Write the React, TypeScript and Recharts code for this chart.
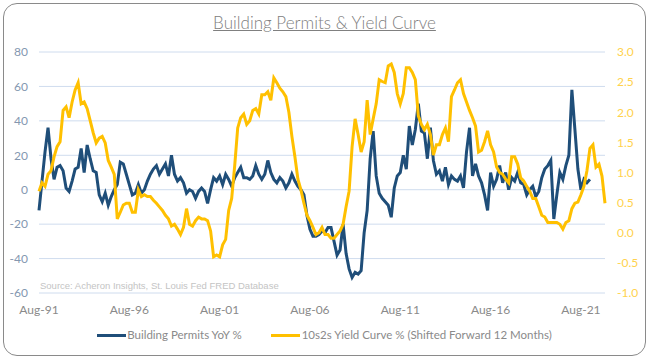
import React from 'react';
import { LineChart, Line, XAxis, YAxis, CartesianGrid } from 'recharts';

// every second month from Aug-91
const permitsYoY = [
  -12, 5, 22, 36, 18, 6, 13, 14, 11, 1, -1, 5, 12, 13, 24, 10, 26, 18, 11, 10,
  -3, -7, -2, -9, -4, 0, 3, 16, 15, 9, 3, -3, -2, 3, -2, 0, 5, 9, 12, 14,
  9, 12, 15, 8, 20, 9, 5, 7, 4, -2, 0, -1, -5, -1, 1, -1, -8, 0, 7, 5,
  8, 3, 9, 6, 2, 7, 10, 13, 7, 7, 6, 8, 14, 9, 6, 9, 17, 10, 6, 4,
  7, 5, 1, 4, 9, 5, 2, 0, -3, -15, -23, -27, -27, -26, -24, -25, -22, -22, -30, -38,
  -35, -20, -37, -46, -51, -48, -49, -47, -25, -12, 18, 34, 8, -2, -5, -7, -9, -16, 1, 8,
  10, 20, 12, 37, 26, 35, 50, 34, 33, 18, 36, 17, 9, 11, 5, 13, 3, 8, 6, 5,
  8, 1, 22, 36, 8, 15, 8, 4, -3, -12, 10, 2, 6, 14, 4, 10, 0, 7, 5, 10,
  4, 3, -3, 0, 2, -4, -1, 7, 12, 14, 17, -17, -3, 10, 6, 14, 20, 58, 35, 12,
  0, 6, 4, 6,
];

// 10s2s spread, shifted forward 12 months
const yieldCurve = [
  0.69, 0.83, 0.77, 0.97, 1.03, 1.26, 1.43, 1.51, 2.03, 2.09, 1.91, 2.17, 2.37, 2.49, 2.14, 2.17, 2.06, 1.86, 1.66, 1.49,
  1.57, 1.6, 1.49, 1.2, 1.09, 0.97, 0.23, 0.34, 0.46, 0.49, 0.49, 0.34, 0.34, 0.71, 0.6, 0.63, 0.6, 0.6, 0.54, 0.49,
  0.43, 0.37, 0.29, 0.23, 0.11, 0.14, 0.06, -0.03, 0.09, 0.4, 0.14, 0.11, 0.2, 0.26, 0.23, 0.23, 0.2, 0.03, -0.4, -0.37,
  -0.4, -0.2, -0.11, 0.37, 0.57, 1.11, 1.74, 1.91, 1.97, 1.8, 1.86, 2.03, 2.06, 1.97, 2.29, 2.29, 2.34, 2.2, 2.57, 2.49,
  2.4, 2.34, 2.26, 2.0, 1.6, 1.26, 0.89, 0.71, 0.49, 0.29, 0.2, 0.09, -0.03, 0.0, 0.09, -0.03, -0.03, -0.09, -0.09, -0.03,
  0.03, 0.14, 0.43, 0.69, 1.43, 1.89, 1.63, 1.34, 1.51, 2.2, 1.63, 1.89, 2.14, 2.54, 2.51, 2.49, 2.77, 2.8, 2.66, 2.31,
  2.14, 2.31, 2.74, 2.74, 2.66, 2.54, 1.94, 1.8, 1.71, 1.8, 1.63, 1.29, 1.46, 1.46, 1.63, 1.74, 1.51, 2.26, 2.37, 2.49,
  2.54, 2.31, 2.17, 2.03, 1.91, 1.77, 1.34, 1.37, 1.51, 1.69, 1.46, 1.34, 1.09, 1.0, 0.97, 0.89, 0.83, 1.26, 1.26, 1.14,
  0.91, 0.86, 0.77, 0.69, 0.57, 0.57, 0.43, 0.29, 0.26, 0.17, 0.17, 0.17, 0.17, 0.14, 0.06, 0.17, 0.2, 0.4, 0.49, 0.51,
  0.63, 0.77, 1.03, 1.4, 1.46, 1.09, 1.14, 0.94, 0.49,
];

const leftTicks = [-60, -40, -20, 0, 20, 40, 60, 80];
const rightTicks = [-1, -0.5, 0, 0.5, 1, 1.5, 2, 2.5, 3];
const MONTHS = ['Jan', 'Feb', 'Mar', 'Apr', 'May', 'Jun', 'Jul', 'Aug', 'Sep', 'Oct', 'Nov', 'Dec'];

const categories = yieldCurve.map((_, i) => {
  const m = 7 + 2 * i;
  const yy = String((1991 + Math.floor(m / 12)) % 100).padStart(2, '0');
  return `${MONTHS[m % 12]}-${yy}`;
});

const data = categories.map((month, i) => ({
  month,
  permits: i < permitsYoY.length ? permitsYoY[i] : null,
  curve: yieldCurve[i],
}));

const BLUE = '#1f4e79';
const GOLD = '#ffc000';
const FONT = 'Lato, "Open Sans", sans-serif';

export default function App() {
  return (
    <div style={{ position: 'absolute', left: 0, top: 0, width: 649, height: 360, background: '#fff', fontFamily: FONT }}>
      <div style={{ position: 'absolute', left: 3, top: 3, width: 643, height: 353, border: '1.5px solid #8a8a8a', borderRadius: 14, boxSizing: 'border-box' }} />
      <div style={{ position: 'absolute', top: 12, left: 0, width: 649, textAlign: 'center', fontSize: 17, fontWeight: 300, color: '#808080', textDecoration: 'underline', lineHeight: '22px' }}>
        Building Permits &amp; Yield Curve
      </div>

      <LineChart width={649} height={360} data={data} margin={{ top: 52, right: 0, bottom: 47, left: 0 }} style={{ position: 'absolute', left: 0, top: 0 }}>
        <CartesianGrid yAxisId="left" vertical={false} stroke="#cfdcee" />
        <XAxis
          dataKey="month"
          interval={29}
          axisLine={false}
          tickLine={false}
          height={20}
          tickMargin={6}
          tick={{ fill: '#8a8a8a', fontSize: 12, fontFamily: FONT }}
        />
        <YAxis
          yAxisId="left"
          domain={[-60, 80]}
          ticks={leftTicks}
          width={39}
          axisLine={false}
          tickLine={false}
          tickSize={0}
          tickMargin={11}
          tick={{ fill: '#8497b0', fontSize: 12, fontFamily: FONT }}
        />
        <YAxis
          yAxisId="right"
          orientation="right"
          domain={[-1, 3]}
          ticks={rightTicks}
          width={44}
          axisLine={false}
          tickLine={false}
          tickSize={0}
          tickMargin={12}
          tickFormatter={(v: number) => v.toFixed(1)}
          tick={{ fill: '#ffd24d', fontSize: 12, fontFamily: FONT, textAnchor: 'start' }}
        />
        <Line yAxisId="left" type="linear" dataKey="permits" stroke={BLUE} strokeWidth={3} dot={false} isAnimationActive={false} />
        <Line yAxisId="right" type="linear" dataKey="curve" stroke={GOLD} strokeWidth={3} dot={false} isAnimationActive={false} />
      </LineChart>

      <div style={{ position: 'absolute', left: 40, top: 280, fontFamily: '"Liberation Sans", Arial, sans-serif', fontSize: 9.5, color: '#c4c4c4', whiteSpace: 'nowrap' }}>
        Source: Acheron Insights, St. Louis Fed FRED Database
      </div>

      <div style={{ position: 'absolute', left: 0, top: 327, width: 649, display: 'flex', justifyContent: 'center', gap: 29, fontSize: 11.5, color: '#8a8a8a', lineHeight: '16px' }}>
        <div style={{ display: 'flex', alignItems: 'center' }}>
          <span style={{ display: 'inline-block', width: 29, height: 3, background: BLUE, marginRight: 1 }} />
          Building Permits YoY %
        </div>
        <div style={{ display: 'flex', alignItems: 'center' }}>
          <span style={{ display: 'inline-block', width: 29, height: 3, background: GOLD, marginRight: 2 }} />
          10s2s Yield Curve % (Shifted Forward 12 Months)
        </div>
      </div>
    </div>
  );
}
